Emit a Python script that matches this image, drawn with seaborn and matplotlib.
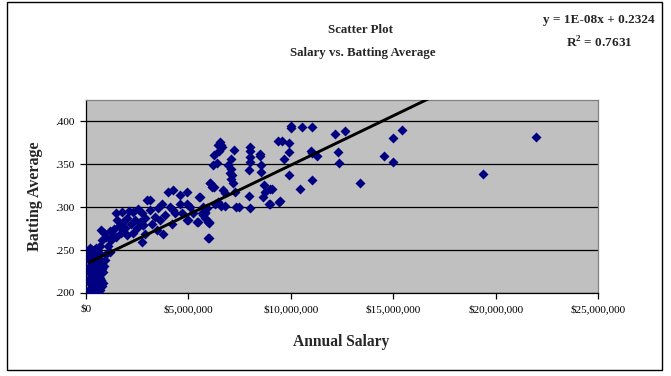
import numpy as np
import pandas as pd
import matplotlib
matplotlib.use("Agg")
import matplotlib.pyplot as plt
import seaborn as sns
from matplotlib.patches import Rectangle
from matplotlib.ticker import FuncFormatter

# ---- data (salary in $ millions, batting average) ----
salary_m = [
    # low-salary blob
    0.20, 0.20, 0.20, 0.20, 0.20, 0.20, 0.20, 0.20, 0.20, 0.20,
    0.22, 0.22, 0.22, 0.22,
    0.25, 0.25, 0.25, 0.25, 0.25, 0.25, 0.25, 0.25,
    0.28, 0.28, 0.28, 0.28,
    0.30, 0.30, 0.30, 0.30, 0.30, 0.30, 0.30, 0.30,
    0.32, 0.32, 0.32, 0.32, 0.32,
    0.35, 0.35, 0.35, 0.35, 0.35, 0.35, 0.35,
    0.38, 0.38, 0.38, 0.38,
    0.40, 0.40, 0.40, 0.40, 0.40, 0.40,
    0.42, 0.42, 0.42,
    0.45, 0.45, 0.45, 0.45, 0.45,
    0.48, 0.48, 0.48,
    0.50, 0.50, 0.50, 0.50, 0.50,
    0.52, 0.52, 0.52,
    0.55, 0.55, 0.55, 0.55,
    0.58, 0.58,
    0.60, 0.60, 0.60, 0.60,
    0.62, 0.62,
    0.65, 0.65, 0.65,
    0.68, 0.68,
    0.70, 0.70, 0.70,
    0.75, 0.75,
    0.80, 0.80,
    0.85, 0.85, 0.90,
    # rising part
    0.70, 0.80, 0.90, 0.75, 1.00, 1.10, 1.20, 1.00, 1.25, 1.35, 1.40, 1.20, 0.95,
    # 1.3 - 3M
    1.48, 1.55, 1.75, 1.83, 1.60, 1.70, 1.90, 2.00, 2.10, 2.32, 2.20, 2.40, 2.50, 2.65, 2.73,
    2.55, 2.00, 2.30, 2.80, 1.50, 2.90, 2.73, 2.89,
    # 3 - 6.5M
    2.97, 4.03, 4.27, 4.92, 5.57, 6.06, 6.14, 4.60, 3.70, 3.13, 3.38, 3.62, 3.86, 4.27, 4.35,
    4.92, 5.08, 5.24, 5.49, 5.81, 5.97, 5.97, 5.00, 4.19, 3.21, 2.81, 3.46, 3.78, 4.60, 4.68,
    4.11, 3.54, 3.13, 5.73, 6.46, 5.41, 4.95, 5.54, 6.01,
    # 6 - 9.5M
    6.54, 6.63, 6.46, 7.24, 8.01, 8.49, 6.25, 7.08, 8.01, 8.01, 6.38, 6.19, 6.95, 8.54, 7.97,
    8.54, 7.03, 7.14, 7.07, 7.19, 6.06, 6.25, 6.71, 6.79, 7.28, 8.69, 8.74, 8.66, 8.98, 7.97,
    9.43, 8.95, 8.01, 7.32, 7.49, 6.79, 6.58, 6.30, 5.90, 5.81, 5.65, 5.81, 5.73, 6.02, 6.02,
    9.39, 8.00, 6.60, 7.10, 8.50, 6.50,
    # high salaries
    9.99, 10.54, 11.01, 12.15, 12.64, 9.57, 9.91, 9.66, 11.01, 11.29, 12.31, 12.36, 9.91, 11.01,
    10.43, 9.47, 9.06, 8.98, 15.40, 14.96, 14.55, 14.96, 13.37, 19.35, 21.93,
    10.00, 11.00, 9.90,
]
batting_avg = [
    0.200, 0.205, 0.212, 0.218, 0.225, 0.232, 0.238, 0.244, 0.249, 0.252,
    0.201, 0.214, 0.227, 0.241,
    0.203, 0.210, 0.216, 0.222, 0.229, 0.236, 0.242, 0.248,
    0.206, 0.219, 0.231, 0.245,
    0.201, 0.208, 0.214, 0.221, 0.227, 0.234, 0.240, 0.247,
    0.200, 0.212, 0.225, 0.237, 0.250,
    0.204, 0.211, 0.219, 0.226, 0.233, 0.239, 0.246,
    0.205, 0.221, 0.235, 0.248,
    0.202, 0.209, 0.217, 0.231, 0.243, 0.250,
    0.212, 0.226, 0.240,
    0.206, 0.215, 0.224, 0.236, 0.246,
    0.200, 0.220, 0.232,
    0.203, 0.213, 0.228, 0.238, 0.252,
    0.207, 0.224, 0.242,
    0.208, 0.220, 0.233, 0.244,
    0.214, 0.238,
    0.205, 0.218, 0.230, 0.248,
    0.201, 0.224,
    0.212, 0.226, 0.240,
    0.217, 0.246,
    0.203, 0.222, 0.236,
    0.215, 0.232,
    0.208, 0.228,
    0.212, 0.225, 0.232,
    0.255, 0.262, 0.270, 0.273, 0.265, 0.255, 0.248, 0.245, 0.262, 0.266, 0.275, 0.272, 0.238,
    0.293, 0.285, 0.294, 0.283, 0.278, 0.270, 0.276, 0.288, 0.296, 0.294, 0.280, 0.285, 0.276, 0.283, 0.293,
    0.298, 0.268, 0.270, 0.279, 0.265, 0.288, 0.260, 0.269,
    0.308, 0.318, 0.320, 0.318, 0.312, 0.328, 0.324, 0.314, 0.304, 0.297, 0.289, 0.285, 0.291, 0.297, 0.293,
    0.304, 0.300, 0.293, 0.283, 0.293, 0.283, 0.264, 0.285, 0.281, 0.281, 0.279, 0.273, 0.269, 0.304, 0.293,
    0.300, 0.299, 0.309, 0.300, 0.306, 0.283, 0.285, 0.312, 0.282,
    0.376, 0.370, 0.372, 0.367, 0.370, 0.362, 0.361, 0.356, 0.359, 0.353, 0.352, 0.349, 0.349, 0.349, 0.343,
    0.341, 0.340, 0.338, 0.333, 0.328, 0.328, 0.323, 0.320, 0.316, 0.318, 0.326, 0.318, 0.312, 0.321, 0.313,
    0.306, 0.304, 0.299, 0.300, 0.300, 0.302, 0.302, 0.304, 0.299, 0.295, 0.293, 0.288, 0.291, 0.283, 0.264,
    0.377, 0.365, 0.373, 0.345, 0.360, 0.365,
    0.395, 0.393, 0.393, 0.385, 0.389, 0.377, 0.364, 0.356, 0.363, 0.360, 0.364, 0.352, 0.337, 0.332,
    0.321, 0.307, 0.321, 0.304, 0.390, 0.381, 0.360, 0.353, 0.328, 0.339, 0.382,
    0.392, 0.366, 0.375,
]

x_ticks = [0, 5e6, 10e6, 15e6, 20e6, 25e6]
y_ticks = [0.200, 0.250, 0.300, 0.350, 0.400]
title_lines = ["Scatter Plot", "Salary vs. Batting Average"]
equation_text = "y = 1E-08x + 0.2324"
r2_text = "R$^2$ = 0.7631"

df = pd.DataFrame({"salary": np.array(salary_m) * 1e6, "avg": batting_avg})

sns.set_theme(style="white")
plt.rcParams["font.family"] = ["Liberation Serif", "DejaVu Serif"]
plt.rcParams["mathtext.fontset"] = "custom"
plt.rcParams["mathtext.rm"] = "Liberation Serif:bold"
plt.rcParams["mathtext.bf"] = "Liberation Serif:bold"

W, H = 671, 376
fig = plt.figure(figsize=(W / 100, H / 100), dpi=100)
fig.patch.set_facecolor("white")

# outer chart border
fig.patches.append(Rectangle((7 / W, 1 - 370 / H), (662 - 7) / W, (370 - 2) / H,
                             transform=fig.transFigure, fill=False, edgecolor="black", lw=1.0))

x0, x1, y0, y1 = 85.7, 598.5, 100, 293
ax = fig.add_axes([x0 / W, 1 - y1 / H, (x1 - x0) / W, (y1 - y0) / H])
ax.set_facecolor("#C0C0C0")

sns.scatterplot(data=df, x="salary", y="avg", marker="D", color="#000080", s=26,
                linewidth=0, ax=ax, zorder=3, legend=False)
sns.regplot(data=df, x="salary", y="avg", scatter=False, ci=None, truncate=True,
            color="black", line_kws={"lw": 2.1, "zorder": 4}, ax=ax)

ax.set_xlim(0, 25e6)
ax.set_ylim(0.2, 0.425)
ax.set_xticks(x_ticks)
ax.set_yticks(y_ticks)
ax.xaxis.set_major_formatter(FuncFormatter(lambda v, p: "$" + format(int(round(v)), ",")))
ax.yaxis.set_major_formatter(FuncFormatter(lambda v, p: ("%.3f" % v).lstrip("0")))
ax.yaxis.grid(True, color="black", lw=0.9)
ax.xaxis.grid(False)
ax.set_axisbelow(True)

for side in ["top", "right"]:
    ax.spines[side].set_color("#808080")
    ax.spines[side].set_linewidth(0.9)
for side in ["left", "bottom"]:
    ax.spines[side].set_color("black")
    ax.spines[side].set_linewidth(0.9)

ax.tick_params(axis="both", direction="out", length=4, width=0.9, color="black",
               labelsize=8, labelcolor="black", pad=4, left=True, bottom=True)

ax.set_xlabel("")
ax.set_ylabel("")

fig.text(341 / W, 1 - 342 / H, "Annual Salary", ha="center", va="center",
         fontsize=11.2, fontweight="bold")
fig.text(35 / W, 1 - 196 / H, "Batting Average", ha="center", va="center",
         fontsize=11.5, fontweight="bold", rotation=90)
fig.text(360 / W, 1 - 30 / H, title_lines[0], ha="center", va="center",
         fontsize=9.3, fontweight="bold")
fig.text(363 / W, 1 - 53 / H, title_lines[1], ha="center", va="center",
         fontsize=9.3, fontweight="bold")
fig.text(599 / W, 1 - 20 / H, equation_text, ha="center", va="center",
         fontsize=9.5, fontweight="bold")
fig.text(599 / W, 1 - 43 / H, r2_text, ha="center", va="center",
         fontsize=9.5, fontweight="bold")

fig.savefig("out.png", dpi=100, facecolor="white")
